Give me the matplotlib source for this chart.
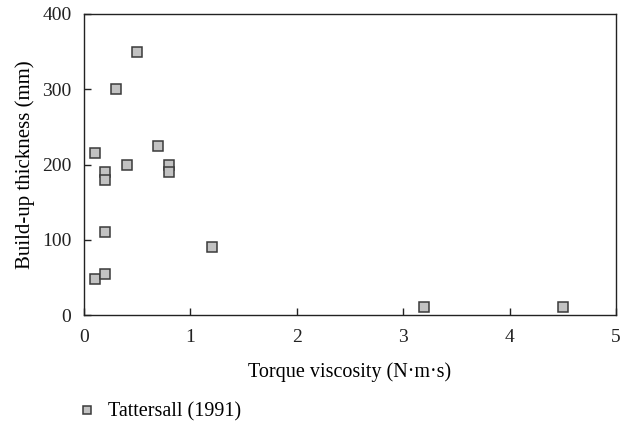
import matplotlib
matplotlib.use("Agg")
import matplotlib.pyplot as plt

# Tattersall (1991): torque viscosity vs build-up thickness
viscosity = [0.1, 0.1, 0.2, 0.2, 0.2, 0.2, 0.3, 0.4, 0.5, 0.7, 0.8, 0.8, 1.2, 3.2, 4.5]
thickness = [215, 48, 190, 180, 110, 55, 300, 200, 350, 225, 200, 190, 90, 10, 10]

plt.rcParams["font.family"] = ["Liberation Serif", "DejaVu Serif"]

fig = plt.figure(figsize=(6.32, 4.26), dpi=100)
ax = fig.add_axes([84 / 632, 1 - 315 / 426, 532 / 632, 301 / 426])

ax.plot(viscosity, thickness, ls="none", marker="s", ms=6.5,
        mfc="#c2c2c2", mec="#3a3a3a", mew=1.1, label="Tattersall (1991)")

ax.set_xlim(0, 5)
ax.set_ylim(0, 400)
ax.set_xticks(range(0, 6))
ax.set_yticks(range(0, 401, 100))
ax.tick_params(direction="in", length=5, width=1, labelsize=14, colors="#222222")
ax.tick_params(axis="x", pad=10)
ax.tick_params(axis="y", pad=9)
for s in ax.spines.values():
    s.set_linewidth(1.0)
    s.set_color("#222222")

ax.set_xlabel("Torque viscosity (N·m·s)", fontsize=14.5, labelpad=12)
ax.set_ylabel("Build-up thickness (mm)", fontsize=15, labelpad=5)

fig.legend(loc="center left", bbox_to_anchor=(77 / 632, 1 - 412 / 426),
           frameon=False, fontsize=14.5, handlelength=1.0, handletextpad=0.55,
           borderpad=0, borderaxespad=0, markerscale=0.8)

fig.savefig("out.png", dpi=100)
plt.close(fig)
